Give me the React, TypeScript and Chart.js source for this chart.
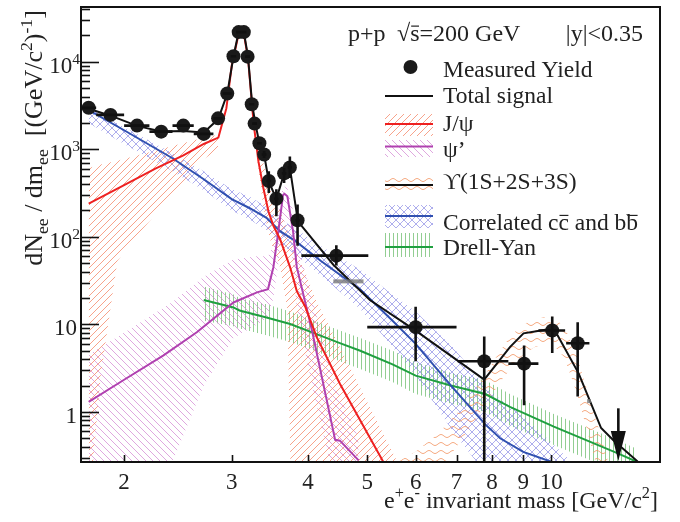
import React, { useEffect, useRef } from 'react';
import { Chart, registerables } from 'chart.js';
Chart.register(...registerables);

// ---------------- data ----------------
const ptMass = [1.75, 1.9, 2.1, 2.3, 2.5, 2.7, 2.85, 2.95, 3.02, 3.08, 3.14, 3.185, 3.235, 3.27, 3.33, 3.39, 3.45, 3.55, 3.655, 3.735, 3.845, 4.45, 6.0, 7.77, 9.03, 10.04, 11.05];
const ptYield = [2985, 2470, 1865, 1590, 1865, 1500, 2256, 4340, 11550, 21800, 21800, 11430, 3270, 1965, 1173, 873, 434, 272, 531, 621, 155, 61, 9.3, 3.8, 3.56, 8.5, 6.1];
const ptErrXLo = [0.05, 0.1, 0.1, 0.1, 0.1, 0.1, 0.05, 0.05, 0.03, 0.03, 0.03, 0.03, 0.03, 0.03, 0.03, 0.03, 0.03, 0.03, 0.03, 0.03, 0.03, 0.55, 1.0, 0.74, 0.52, 0.51, 0.47];
const ptErrXHi = [0.05, 0.1, 0.1, 0.1, 0.1, 0.1, 0.05, 0.05, 0.03, 0.03, 0.03, 0.03, 0.03, 0.03, 0.03, 0.03, 0.03, 0.03, 0.03, 0.03, 0.03, 0.57, 1.0, 0.74, 0.5, 0.5, 0.5];
const ptErrYLo = [60, 50, 40, 40, 40, 40, 50, 80, 150, 250, 250, 150, 60, 50, 40, 80, 117, 100, 119, 151, 76, 14, 5.5, 3.8, 2.37, 3.8, 4.6];
const ptErrYHi = [60, 50, 40, 40, 40, 40, 50, 80, 150, 250, 250, 150, 60, 50, 40, 80, 126, 77, 79, 207, 79, 19, 6.6, 3.46, 2.18, 3.8, 4.5];

const ulMass = 12.88;
const ulValue = 1.1;
const ulTip = 0.275;

const grayMarkMass = [[4.4, 4.93], [11.45, 11.62]];
const grayMarkValue = [31, 1.33];

const totMass = [1.75, 1.9, 2.1, 2.3, 2.5, 2.7, 2.85, 2.95, 3.02, 3.08, 3.14, 3.19, 3.24, 3.28, 3.33, 3.39, 3.45, 3.55, 3.655, 3.735, 3.85, 4.4, 5.05, 6.0, 7.77, 8.56, 9.01, 10.09, 10.2, 11.09, 12.07, 12.63, 13.85];
const totVal = [2900, 2420, 1850, 1600, 1620, 1560, 2200, 4300, 11500, 22000, 22000, 11400, 3300, 1950, 1170, 870, 430, 270, 530, 620, 150, 48, 19, 8.5, 2.34, 5.5, 7.9, 9.0, 7.9, 2.76, 0.655, 0.478, 0.272];

const jpsiMass = [1.75, 2.0, 2.25, 2.5, 2.7, 2.853, 2.94, 3.0, 3.08, 3.14, 3.19, 3.26, 3.318, 3.38, 3.445, 3.512, 3.6, 3.74, 3.834, 3.956, 4.135, 4.51, 5.31];
const jpsiVal = [240, 390, 600, 850, 1150, 1360, 2930, 9000, 21000, 21000, 11000, 1914, 727, 361, 196, 133, 94, 44.6, 24, 16, 7.1, 2.1, 0.27];

const psiMass = [1.75, 2.0, 2.32, 2.63, 3.02, 3.3, 3.44, 3.51, 3.577, 3.64, 3.66, 3.7, 3.78, 3.834, 4.06, 4.43, 4.51, 4.84];
const psiVal = [1.3, 2.33, 4.42, 8.13, 17.8, 23.2, 25.3, 45, 116, 300, 310, 290, 116, 45, 8.5, 0.48, 0.47, 0.28];

const ccMass = [1.75, 2.0, 2.4, 2.7, 3.0, 3.2, 3.42, 3.6, 3.81, 4.2, 4.87, 5.5, 6.0, 6.9, 7.8, 8.25, 9.0, 10.0, 10.8];
const ccVal = [2810, 1650, 790, 455, 270, 215, 165, 116, 90, 53, 25, 11, 6.0, 1.9, 0.72, 0.5, 0.35, 0.27, 0.2];
const ccHi = [3000, 1800, 900, 560, 350, 290, 220, 160, 125, 78, 42, 22, 14, 5.5, 2.0, 1.4, 0.9, 0.45, 0.27];
const ccLo = [2000, 1150, 560, 340, 200, 160, 120, 85, 63, 36, 15, 5.5, 2.6, 0.6, 0.2, 0.15, 0.1, 0.08, 0.05];

const dyMass = [2.7, 3.02, 3.09, 3.42, 3.74, 4.1, 4.51, 4.87, 5.5, 6.0, 6.85, 7.8, 8.56, 10.1, 12.8, 13.8];
const dyVal = [19, 15.6, 14.4, 12, 10.1, 7.9, 6.1, 5.0, 3.5, 2.6, 2.0, 1.6, 1.14, 0.68, 0.34, 0.27];
const dyHi = [27, 22, 20, 17, 14, 11, 8.5, 7, 5, 3.7, 2.8, 2.3, 1.6, 0.95, 0.48, 0.38];
const dyLo = [11, 9.5, 9, 7.5, 6.3, 5, 3.8, 3.1, 2.2, 1.6, 1.25, 1.0, 0.7, 0.42, 0.21, 0.17];

const jpsiBandLMass = [1.75, 1.78, 1.83, 1.95, 2.07, 2.35, 2.67, 2.85];
const jpsiBandLHi = [610, 630, 670, 740, 830, 1050, 1330, 1470];
const jpsiBandLLo = [0.05, 0.28, 2.5, 53, 92, 256, 730, 1000];

const jpsiBandRMass = [3.3, 3.38, 3.445, 3.512, 3.6, 3.7, 3.76, 3.834, 3.956, 4.135, 4.51, 5.0, 5.6];
const jpsiBandRHi = [1500, 700, 400, 280, 200, 120, 90, 65, 40, 18, 5.5, 1.3, 0.27];
const jpsiBandRLo = [800, 220, 110, 70, 45, 15, 0.05, 0.05, 0.05, 0.05, 0.05, 0.05, 0.05];

const psiBandMass = [1.75, 2.0, 2.4, 2.7, 3.02, 3.3, 3.44, 3.51, 3.577, 3.64, 3.7, 3.78, 3.834, 4.06, 4.43, 4.84];
const psiBandHi = [4.5, 8, 18, 35, 55, 60, 60, 80, 200, 380, 360, 200, 90, 20, 2, 0.5];
const psiBandLo = [0.05, 0.1, 0.27, 2, 7, 10, 12, 20, 50, 150, 150, 50, 15, 2, 0.15, 0.05];

const upsMass = [5.6, 6.0, 6.5, 7.0, 7.5, 7.8, 8.25, 8.6, 9.0, 9.4, 10.0, 10.5, 11.0, 11.5, 12.0, 12.4];
const upsHi = [0.27, 0.35, 0.55, 0.95, 1.8, 2.7, 5.0, 7.5, 10, 11.5, 12.5, 9.5, 4.5, 1.6, 0.6, 0.27];
const upsLo = [0.1, 0.12, 0.2, 0.4, 0.8, 1.2, 2.2, 3.2, 4.5, 5.5, 6.2, 4.2, 1.7, 0.55, 0.18, 0.08];

const xTicks = [2, 3, 4, 5, 6, 7, 8, 9, 10];
const xTickLabels = ['2', '3', '4', '5', '6', '7', '8', '9', '10'];
const yMajor = [1, 10, 100, 1000, 10000];
const yMajorBase = ['1', '10', '10', '10', '10'];
const yMajorExp = ['', '', '2', '3', '4'];

const X_MIN = 1.70, X_MAX = 15.07, Y_MIN = 0.268, Y_MAX = 42200;

// ---------------- helpers ----------------
const FONT = '"Liberation Serif", "DejaVu Serif", serif';
type Seg = { t: string; sup?: boolean; sub?: boolean; over?: boolean };

function segSize(s: Seg, size: number) { return s.sup || s.sub ? size * 0.68 : size; }
function richWidth(ctx: CanvasRenderingContext2D, segs: Seg[], size: number) {
  let w = 0;
  for (const s of segs) { ctx.font = `${segSize(s, size)}px ${FONT}`; w += ctx.measureText(s.t).width; }
  return w;
}
function drawRich(ctx: CanvasRenderingContext2D, segs: Seg[], x: number, y: number, size: number, align: 'left' | 'right' | 'center') {
  const w = richWidth(ctx, segs, size);
  let cx = align === 'left' ? x : align === 'right' ? x - w : x - w / 2;
  ctx.textAlign = 'left';
  ctx.textBaseline = 'alphabetic';
  for (const s of segs) {
    const fs = segSize(s, size);
    ctx.font = `${fs}px ${FONT}`;
    const dy = s.sup ? -size * 0.4 : s.sub ? size * 0.22 : 0;
    ctx.fillText(s.t, cx, y + dy);
    const tw = ctx.measureText(s.t).width;
    if (s.over) {
      ctx.save();
      ctx.lineWidth = 1.2;
      ctx.strokeStyle = ctx.fillStyle as string;
      ctx.beginPath();
      ctx.moveTo(cx + 1, y - size * 0.62);
      ctx.lineTo(cx + tw - 0.5, y - size * 0.62);
      ctx.stroke();
      ctx.restore();
    }
    cx += tw;
  }
}

function makePattern(ctx: CanvasRenderingContext2D, kind: string, color: string): CanvasPattern {
  const c = document.createElement('canvas');
  let w = 7, h = 7;
  if (kind === 'vert') { w = 4; h = 4; }
  if (kind === 'wave') { w = 12; h = 8; }
  if (kind === 'cross') { w = 8; h = 8; }
  c.width = w; c.height = h;
  const g = c.getContext('2d')!;
  g.strokeStyle = color;
  g.lineWidth = 1;
  g.beginPath();
  if (kind === 'fwd' || kind === 'cross') {
    g.moveTo(-1, h + 1); g.lineTo(w + 1, -1);
    g.moveTo(-1, 1); g.lineTo(1, -1);
    g.moveTo(w - 1, h + 1); g.lineTo(w + 1, h - 1);
  }
  if (kind === 'back' || kind === 'cross') {
    g.moveTo(-1, -1); g.lineTo(w + 1, h + 1);
    g.moveTo(w - 1, -1); g.lineTo(w + 1, 1);
    g.moveTo(-1, h - 1); g.lineTo(1, h + 1);
  }
  if (kind === 'vert') { g.moveTo(1.5, 0); g.lineTo(1.5, h); }
  if (kind === 'wave') {
    for (let i = 0; i <= w; i++) {
      const yy = h / 2 + 1.5 * Math.sin((2 * Math.PI * i) / w);
      if (i === 0) g.moveTo(i, yy); else g.lineTo(i, yy);
    }
  }
  g.stroke();
  return ctx.createPattern(c, 'repeat')!;
}

const pts = (xs: number[], ys: number[]) => xs.map((x, i) => ({ x, y: ys[i] }));

export default function App() {
  const ref = useRef<HTMLCanvasElement>(null);
  useEffect(() => {
    document.body.style.margin = '0';
    const canvas = ref.current!;
    const ctx = canvas.getContext('2d')!;
    const pJpsi = makePattern(ctx, 'fwd', 'rgba(245,140,110,0.8)');
    const pPsi = makePattern(ctx, 'back', 'rgba(210,130,210,0.7)');
    const pUps = makePattern(ctx, 'wave', 'rgba(242,150,100,0.8)');
    const pCC = makePattern(ctx, 'cross', 'rgba(120,120,225,0.6)');
    const pDY = makePattern(ctx, 'vert', 'rgba(100,185,100,0.7)');

    const RED = '#ee2020', MAG = '#b040b0', BLUE = '#3050b0', GREEN = '#20a040';

    const band = (xs: number[], hi: number[], lo: number[], pat: CanvasPattern) => [
      { type: 'line', data: pts(xs, hi), borderWidth: 0, borderColor: 'rgba(0,0,0,0)', pointRadius: 0, fill: false, order: 20 },
      { type: 'line', data: pts(xs, lo), borderWidth: 0, borderColor: 'rgba(0,0,0,0)', pointRadius: 0, fill: '-1', backgroundColor: pat, order: 20 },
    ];
    const line = (xs: number[], ys: number[], color: string, order: number, w = 2) => ({
      type: 'line', data: pts(xs, ys), borderColor: color, borderWidth: w, pointRadius: 0, fill: false, order,
    });

    const datasets: any[] = [
      ...band(jpsiBandLMass, jpsiBandLHi, jpsiBandLLo, pJpsi),
      ...band(jpsiBandRMass, jpsiBandRHi, jpsiBandRLo, pJpsi),
      ...band(psiBandMass, psiBandHi, psiBandLo, pPsi),
      ...band(upsMass, upsHi, upsLo, pUps),
      ...band(ccMass, ccHi, ccLo, pCC),
      ...band(dyMass, dyHi, dyLo, pDY),
      line(ccMass, ccVal, BLUE, 5),
      line(dyMass, dyVal, GREEN, 5),
      line(psiMass, psiVal, MAG, 4),
      line(jpsiMass, jpsiVal, RED, 3),
      line(totMass, totVal, '#111', 2),
      {
        type: 'scatter', data: pts(ptMass, ptYield), pointRadius: 7, pointBackgroundColor: '#1a1a1a',
        pointBorderColor: '#1a1a1a', pointBorderWidth: 0, showLine: false, order: 0,
      },
    ];

    const deco = {
      id: 'deco',
      afterDatasetsDraw(chart: any) {
        const c = chart.ctx as CanvasRenderingContext2D;
        const xs = chart.scales.x, ys = chart.scales.y;
        const a = chart.chartArea;
        c.save();
        c.beginPath(); c.rect(a.left, a.top, a.right - a.left, a.bottom - a.top); c.clip();
        // gray marks
        c.strokeStyle = 'rgba(120,120,120,0.8)'; c.lineWidth = 4;
        grayMarkMass.forEach((m, i) => {
          const yy = ys.getPixelForValue(grayMarkValue[i]);
          c.beginPath(); c.moveTo(xs.getPixelForValue(m[0]), yy); c.lineTo(xs.getPixelForValue(m[1]), yy); c.stroke();
        });
        // error bars
        c.strokeStyle = '#111'; c.lineWidth = 2.6;
        ptMass.forEach((m, i) => {
          const px = xs.getPixelForValue(m), py = ys.getPixelForValue(ptYield[i]);
          const x0 = xs.getPixelForValue(m - ptErrXLo[i]), x1 = xs.getPixelForValue(m + ptErrXHi[i]);
          const lo = ptYield[i] - ptErrYLo[i];
          const y0 = lo > 0 ? ys.getPixelForValue(lo) : a.bottom + 2;
          const y1 = ys.getPixelForValue(ptYield[i] + ptErrYHi[i]);
          c.beginPath(); c.moveTo(x0, py); c.lineTo(x1, py); c.moveTo(px, y0); c.lineTo(px, y1); c.stroke();
        });
        // upper limit arrow
        const ax = xs.getPixelForValue(ulMass);
        const ay0 = ys.getPixelForValue(ulValue), ay1 = ys.getPixelForValue(ulTip);
        c.beginPath(); c.moveTo(ax, ay0); c.lineTo(ax, ay1 - 20); c.stroke();
        c.fillStyle = '#111';
        c.beginPath(); c.moveTo(ax - 7.5, ay1 - 30); c.lineTo(ax + 7.5, ay1 - 30); c.lineTo(ax, ay1); c.closePath(); c.fill();
        c.restore();
      },
      afterDraw(chart: any) {
        const c = chart.ctx as CanvasRenderingContext2D;
        const xs = chart.scales.x, ys = chart.scales.y;
        const a = chart.chartArea;
        c.save();
        c.strokeStyle = '#111'; c.fillStyle = '#1a1a1a';
        c.lineWidth = 2;
        c.strokeRect(a.left, a.top, a.right - a.left, a.bottom - a.top);
        // y ticks
        c.lineWidth = 1.6;
        for (let e = -1; e <= 4; e++) {
          for (let k = 1; k <= 9; k++) {
            const v = k * Math.pow(10, e);
            if (v < Y_MIN || v > Y_MAX) continue;
            const yy = Math.round(ys.getPixelForValue(v)) + 0.5;
            const len = k === 1 ? 18 : 9;
            c.beginPath(); c.moveTo(a.left, yy); c.lineTo(a.left + len, yy); c.stroke();
          }
        }
        // x ticks
        xTicks.forEach((v) => {
          const xx = Math.round(xs.getPixelForValue(v)) + 0.5;
          c.beginPath(); c.moveTo(xx, a.bottom); c.lineTo(xx, a.bottom - 7); c.stroke();
        });
        // labels
        c.fillStyle = '#222';
        xTicks.forEach((v, i) => {
          drawRich(c, [{ t: xTickLabels[i] }], xs.getPixelForValue(v), a.bottom + 27, 23, 'center');
        });
        yMajor.forEach((v, i) => {
          const yy = ys.getPixelForValue(v) + 11;
          const segs: Seg[] = [{ t: yMajorBase[i] }];
          if (yMajorExp[i]) segs.push({ t: yMajorExp[i], sup: true });
          drawRich(c, segs, yMajorExp[i] ? 80 : 77, yy, 23, 'right');
        });
        // x title
        drawRich(c, [{ t: 'e' }, { t: '+', sup: true }, { t: 'e' }, { t: '-', sup: true }, { t: ' invariant mass [GeV/c' }, { t: '2', sup: true }, { t: ']' }], 658, 508, 24, 'right');
        // y title
        c.save();
        c.translate(42, 138);
        c.rotate(-Math.PI / 2);
        drawRich(c, [{ t: 'dN' }, { t: 'ee', sub: true }, { t: ' / dm' }, { t: 'ee', sub: true }, { t: '  [(GeV/c' }, { t: '2', sup: true }, { t: ')' }, { t: '-1', sup: true }, { t: ']' }], 0, 0, 26, 'center');
        c.restore();
        // header
        drawRich(c, [{ t: 'p+p' }], 348, 41, 24, 'left');
        drawRich(c, [{ t: '\u221A' }, { t: 's', over: true }, { t: '=200 GeV' }], 397, 41, 24, 'left');
        drawRich(c, [{ t: '|y|<0.35' }], 643, 41, 24, 'right');
        // legend
        const lx0 = 385, lx1 = 433, tx = 443;
        c.fillStyle = '#1a1a1a';
        c.beginPath(); c.arc(410.5, 67, 7, 0, Math.PI * 2); c.fill();
        const symLine = (y: number, color: string) => {
          c.strokeStyle = color; c.lineWidth = 2;
          c.beginPath(); c.moveTo(lx0, y); c.lineTo(lx1, y); c.stroke();
        };
        const symBand = (y0: number, y1: number, pat: CanvasPattern) => {
          c.fillStyle = pat; c.fillRect(lx0, y0, lx1 - lx0, y1 - y0);
        };
        symLine(96, '#111');
        symBand(114, 136, pJpsi); symLine(124, RED);
        symBand(140, 157, pPsi); symLine(146.5, MAG);
        symBand(176, 194, pUps); symLine(185, '#111');
        symBand(205, 228, pCC); symLine(216, BLUE);
        symBand(233, 257, pDY); symLine(247, GREEN);
        c.fillStyle = '#222';
        drawRich(c, [{ t: 'Measured Yield' }], tx, 76.5, 23.5, 'left');
        drawRich(c, [{ t: 'Total signal' }], tx, 103, 23.5, 'left');
        drawRich(c, [{ t: 'J/\u03C8' }], tx, 131, 23.5, 'left');
        drawRich(c, [{ t: '\u03C8\u2019' }], tx, 157, 23.5, 'left');
        drawRich(c, [{ t: '\u03D2(1S+2S+3S)' }], tx, 189, 23.5, 'left');
        drawRich(c, [{ t: 'Correlated c' }, { t: 'c', over: true }, { t: ' and b' }, { t: 'b', over: true }], tx, 230, 23.5, 'left');
        drawRich(c, [{ t: 'Drell-Yan' }], tx, 255, 23.5, 'left');
        c.restore();
      },
    };

    const chart = new Chart(canvas, {
      type: 'line',
      data: { datasets },
      options: {
        animation: false,
        responsive: false,
        maintainAspectRatio: false,
        layout: { padding: { left: 81, right: 20, top: 5, bottom: 60 } },
        scales: {
          x: { type: 'logarithmic', min: X_MIN, max: X_MAX, display: false },
          y: { type: 'logarithmic', min: Y_MIN, max: Y_MAX, display: false },
        },
        plugins: { legend: { display: false }, tooltip: { enabled: false } },
        elements: { line: { tension: 0 } },
      },
      plugins: [deco],
    } as any);
    return () => chart.destroy();
  }, []);
  return <canvas ref={ref} width={680} height={522} style={{ display: 'block' }} />;
}
